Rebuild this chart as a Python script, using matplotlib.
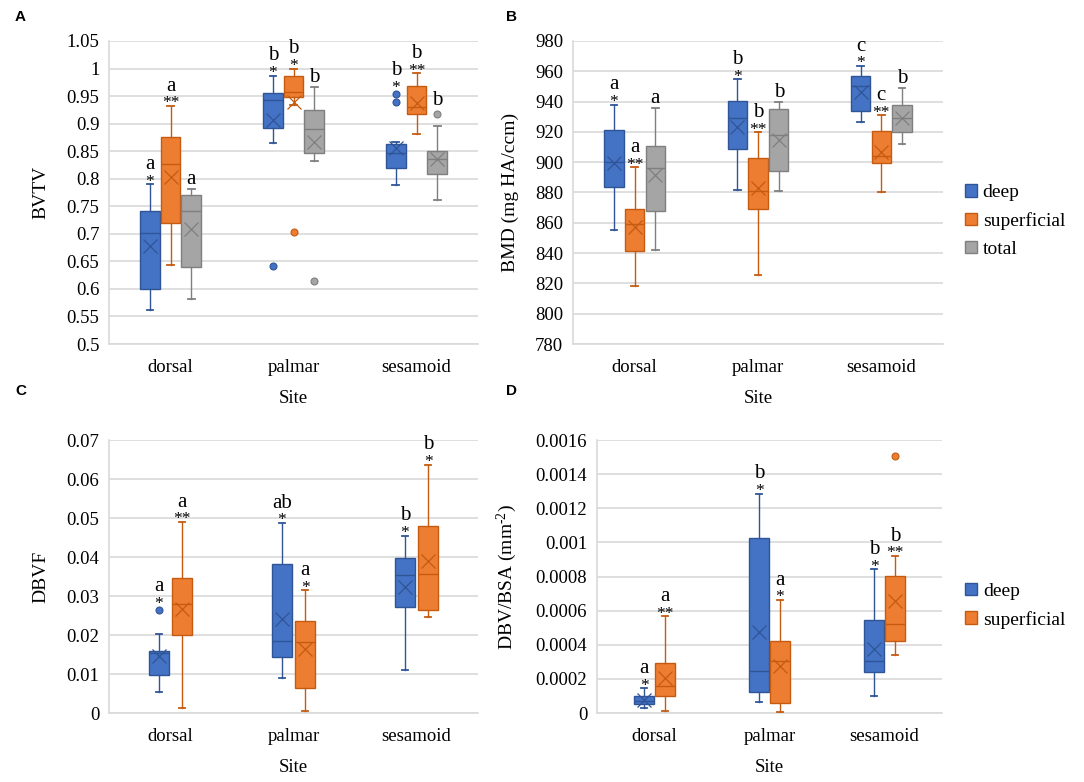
import matplotlib
matplotlib.use('Agg')
import matplotlib.pyplot as plt
from matplotlib.patches import Patch
from matplotlib.ticker import FuncFormatter
import numpy as np

plt.rcParams['font.family'] = ['Liberation Serif', 'DejaVu Serif']
plt.rcParams['mathtext.fontset'] = 'custom'
plt.rcParams['mathtext.rm'] = 'Liberation Serif'
plt.rcParams['mathtext.it'] = 'Liberation Serif:italic'

sites = ['dorsal', 'palmar', 'sesamoid']
series = ['deep', 'superficial', 'total']

# stats per site: [whislo, q1, median, q3, whishi, mean]
bvtv_deep = [[0.562, 0.600, 0.701, 0.742, 0.790, 0.677],
             [0.864, 0.892, 0.943, 0.956, 0.987, 0.907],
             [0.788, 0.819, 0.846, 0.863, 0.866, 0.855]]
bvtv_sup = [[0.644, 0.719, 0.826, 0.875, 0.932, 0.804],
            [0.934, 0.948, 0.958, 0.987, 1.000, 0.940],
            [0.881, 0.918, 0.931, 0.968, 0.991, 0.937]]
bvtv_total = [[0.582, 0.640, 0.742, 0.770, 0.782, 0.708],
              [0.832, 0.846, 0.890, 0.924, 0.967, 0.866],
              [0.762, 0.809, 0.836, 0.851, 0.896, 0.835]]
bvtv_fliers = {'deep': [[], [0.641], [0.953, 0.939]],
               'superficial': [[], [0.704], []],
               'total': [[], [0.615], [0.917]]}
bvtv_letters = {'deep': ['a', 'b', 'b'], 'superficial': ['a', 'b', 'b'], 'total': ['a', 'b', 'b']}
bvtv_stars = {'deep': ['*', '*', '*'], 'superficial': ['**', '*', '**'], 'total': ['', '', '']}

bmd_deep = [[855.4, 883.9, 900.0, 921.4, 938.0, 899.6],
            [881.4, 908.4, 929.2, 940.4, 954.6, 923.0],
            [926.7, 934.0, 950.2, 957.0, 963.6, 946.4]]
bmd_sup = [[818.2, 841.4, 858.9, 869.3, 896.7, 857.1],
           [825.7, 868.8, 881.2, 902.9, 919.7, 883.2],
           [880.1, 899.3, 904.0, 920.6, 930.9, 906.6]]
bmd_total = [[841.9, 867.7, 896.0, 910.8, 935.6, 891.6],
             [880.8, 894.0, 918.1, 934.9, 939.6, 914.4],
             [911.7, 919.9, 929.2, 937.6, 948.8, 929.2]]
bmd_fliers = {'deep': [[], [], []], 'superficial': [[], [], []], 'total': [[], [], []]}
bmd_letters = {'deep': ['a', 'b', 'c'], 'superficial': ['a', 'b', 'c'], 'total': ['a', 'b', 'b']}
bmd_stars = {'deep': ['*', '*', '*'], 'superficial': ['**', '**', '**'], 'total': ['', '', '']}

dbvf_deep = [[0.0053, 0.0098, 0.0155, 0.0160, 0.0202, 0.0147],
             [0.0089, 0.0143, 0.0184, 0.0381, 0.0487, 0.0242],
             [0.0111, 0.0273, 0.0353, 0.0397, 0.0455, 0.0324]]
dbvf_sup = [[0.0013, 0.0201, 0.0280, 0.0346, 0.0490, 0.0266],
            [0.0006, 0.0064, 0.0182, 0.0237, 0.0315, 0.0165],
            [0.0247, 0.0265, 0.0356, 0.0479, 0.0637, 0.0389]]
dbvf_fliers = {'deep': [[0.0263], [], []], 'superficial': [[], [], []]}
dbvf_letters = {'deep': ['a', 'ab', 'b'], 'superficial': ['a', 'a', 'b']}
dbvf_stars = {'deep': ['*', '*', '*'], 'superficial': ['**', '*', '*']}

dbvbsa_deep = [[0.0000293, 0.0000527, 0.0000722, 0.000101, 0.000146, 0.000078],
               [0.0000663, 0.000123, 0.000248, 0.001028, 0.001286, 0.000472],
               [0.0000995, 0.000238, 0.000306, 0.000548, 0.000843, 0.000377]]
dbvbsa_sup = [[0.0000098, 0.000101, 0.000160, 0.000293, 0.000568, 0.000205],
              [0.0000039, 0.0000566, 0.000302, 0.000420, 0.000663, 0.000277],
              [0.000341, 0.000423, 0.000523, 0.000804, 0.000921, 0.000658]]
dbvbsa_fliers = {'deep': [[], [], []], 'superficial': [[], [], [0.001508]]}
dbvbsa_letters = {'deep': ['a', 'b', 'b'], 'superficial': ['a', 'a', 'b']}
dbvbsa_stars = {'deep': ['*', '*', '*'], 'superficial': ['**', '*', '**']}

face = {'deep': '#4472C4', 'superficial': '#ED7D31', 'total': '#A5A5A5'}
edge = {'deep': '#2F5597', 'superficial': '#C55A11', 'total': '#7F7F7F'}
grid_c = '#D9D9D9'


def fmt(v, pos):
    return '{:g}'.format(round(v, 6))


def draw_panel(ax, data, fliers, letters, stars, ylim, ystep, ylabel, ylab_x,
               offset, width):
    names = list(data.keys())
    n = len(names)
    offsets = (np.arange(n) - (n - 1) / 2) * offset
    span = ylim[1] - ylim[0]
    for k, name in enumerate(names):
        stats = []
        for i, row in enumerate(data[name]):
            stats.append(dict(whislo=row[0], q1=row[1], med=row[2], q3=row[3],
                              whishi=row[4], mean=row[5], fliers=fliers[name][i]))
        pos = np.arange(1, len(sites) + 1) + offsets[k]
        ax.bxp(stats, positions=pos, widths=width, patch_artist=True,
               showmeans=True, capwidths=0.055,
               boxprops=dict(facecolor=face[name], edgecolor=edge[name], linewidth=1.0),
               medianprops=dict(color=edge[name], linewidth=1.0),
               whiskerprops=dict(color=edge[name], linewidth=1.0),
               capprops=dict(color=edge[name], linewidth=1.3),
               meanprops=dict(marker='x', markeredgecolor=edge[name], markersize=10,
                              markeredgewidth=0.9),
               flierprops=dict(marker='o', markerfacecolor=face[name],
                               markeredgecolor=edge[name], markersize=5,
                               markeredgewidth=0.8),
               zorder=3)
        for i in range(len(sites)):
            top = data[name][i][4]
            extra = 0
            near = [f for f in fliers[name][i] if top < f < top + 0.2 * span]
            if near:
                top = max(near)
                extra = 3
            if stars[name][i]:
                ax.annotate(stars[name][i], (pos[i], top), xytext=(0, -1 + extra),
                            textcoords='offset points', ha='center', va='baseline',
                            fontsize=12.5)
                ax.annotate(letters[name][i], (pos[i], top), xytext=(0, 11 + extra),
                            textcoords='offset points', ha='center', va='baseline',
                            fontsize=15)
            else:
                ax.annotate(letters[name][i], (pos[i], top), xytext=(0, 3.6 + extra),
                            textcoords='offset points', ha='center', va='baseline',
                            fontsize=15)
    ax.set_xlim(0.5, len(sites) + 0.5)
    ax.set_ylim(*ylim)
    ax.set_yticks(np.arange(ylim[0], ylim[1] + ystep / 2, ystep))
    ax.yaxis.set_major_formatter(FuncFormatter(fmt))
    ax.set_xticks(np.arange(1, len(sites) + 1))
    ax.set_xticklabels(sites)
    ax.tick_params(axis='both', length=0, labelsize=13.5)
    ax.tick_params(axis='x', pad=11)
    ax.tick_params(axis='y', pad=7)
    ax.grid(axis='y', color=grid_c, linewidth=1.2, zorder=0)
    ax.set_axisbelow(True)
    for s in ['top', 'right']:
        ax.spines[s].set_visible(False)
    for s in ['left', 'bottom']:
        ax.spines[s].set_color(grid_c)
        ax.spines[s].set_linewidth(1.2)
    ax.set_ylabel(ylabel, fontsize=14)
    ax.yaxis.set_label_coords(ylab_x, 0.5)
    ax.set_xlabel('Site', fontsize=13.5, labelpad=10)


fig = plt.figure(figsize=(10.84, 7.82), dpi=100)
axA = fig.add_axes([0.1006, 0.5601, 0.3404, 0.3875])
axB = fig.add_axes([0.5286, 0.5601, 0.3413, 0.3875])
axC = fig.add_axes([0.1006, 0.0882, 0.3404, 0.3491])
axD = fig.add_axes([0.5507, 0.0882, 0.3183, 0.3491])

draw_panel(axA, {'deep': bvtv_deep, 'superficial': bvtv_sup, 'total': bvtv_total},
           bvtv_fliers, bvtv_letters, bvtv_stars, (0.5, 1.05), 0.05, 'BVTV', -0.163,
           0.168, 0.16)
draw_panel(axB, {'deep': bmd_deep, 'superficial': bmd_sup, 'total': bmd_total},
           bmd_fliers, bmd_letters, bmd_stars, (780, 980), 20, 'BMD (mg HA/ccm)', -0.146,
           0.168, 0.155)
draw_panel(axC, {'deep': dbvf_deep, 'superficial': dbvf_sup},
           dbvf_fliers, dbvf_letters, dbvf_stars, (0, 0.07), 0.01, 'DBVF', -0.163,
           0.188, 0.168)
draw_panel(axD, {'deep': dbvbsa_deep, 'superficial': dbvbsa_sup},
           dbvbsa_fliers, dbvbsa_letters, dbvbsa_stars, (0, 0.0016), 0.0002,
           'DBV/BSA (mm$^{\\text{-2}}$)', -0.226, 0.18, 0.175)

handles3 = [Patch(facecolor=face[s], edgecolor=edge[s], label=s) for s in series]
leg_kw = dict(loc='center left', frameon=False, fontsize=14, handlelength=0.62,
              handleheight=0.62, handletextpad=0.3, labelspacing=0.55,
              borderaxespad=0, borderpad=0)
axB.legend(handles=handles3, bbox_to_anchor=(1.059, 0.406), **leg_kw)
axD.legend(handles=handles3[:2], bbox_to_anchor=(1.067, 0.393), **leg_kw)

for lab, x, y in [('A', 0.019, 0.978), ('B', 0.472, 0.978), ('C', 0.019, 0.500), ('D', 0.472, 0.500)]:
    fig.text(x, y, lab, fontsize=11, fontweight='bold', family='Liberation Sans',
             ha='center', va='center')

fig.savefig('out.png', dpi=100)
